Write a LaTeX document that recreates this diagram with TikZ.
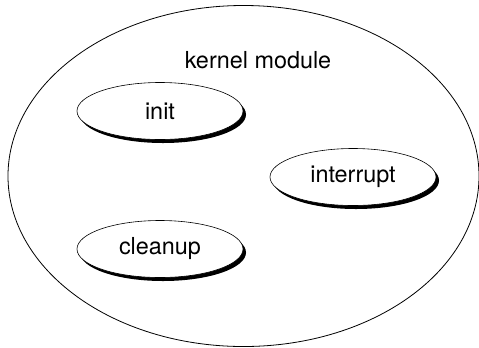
\documentclass[tikz,border=0pt]{standalone}
\usepackage{fontspec}
\setmainfont{TeX Gyre Heros}
\usetikzlibrary{shapes.geometric,shadows}
\begin{document}
\begin{tikzpicture}[x=1bp,y=-1bp,
  every node/.style={font=\fontsize{23.4bp}{28bp}\selectfont, inner sep=0pt},
  module/.style={ellipse, draw, line width=0.8bp, minimum width=471bp, minimum height=341bp},
  func/.style={ellipse, draw, fill=white, line width=0.6bp,
    minimum width=166bp, minimum height=57bp,
    drop shadow={shadow xshift=3bp, shadow yshift=-3.5bp, fill=black, opacity=1}},
  label/.style={}]
  \useasboundingbox (0,0) rectangle (479,347);
  \node[module] (kmod) at (243.5,176) {};
  \node[label] (title) at (258,60) {kernel module};
  \node[func] (init) at (160,111) {init};
  \node[func] (intr) at (353,177) {interrupt};
  \node[func] (clean) at (160,249) {cleanup};
\end{tikzpicture}
\end{document}
